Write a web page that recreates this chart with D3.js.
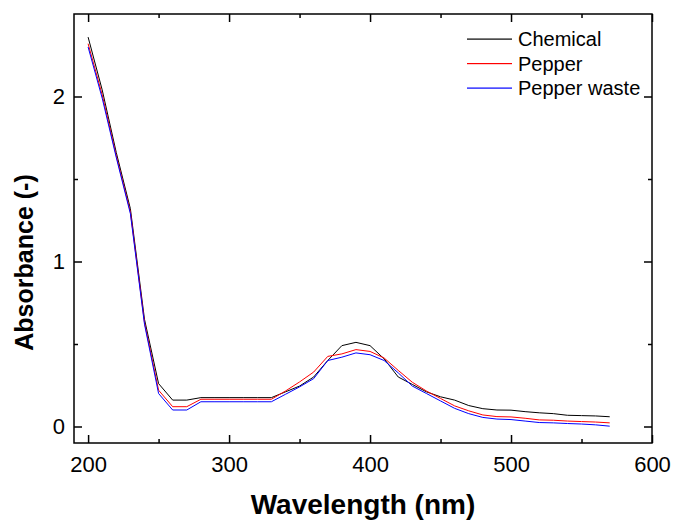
<!DOCTYPE html>
<html>
<head>
<meta charset="utf-8">
<script src="https://cdn.jsdelivr.net/npm/d3@7"></script>
<style>
  body { margin: 0; background: #fff; }
  text { font-family: "Liberation Sans", Arial, sans-serif; }
</style>
</head>
<body>
<script>
// wavelength (nm)
var wavelengths = [200, 210, 220, 230, 240, 250, 260, 270, 280, 290, 300, 310, 320, 330, 340,
    350, 360, 370, 380, 390, 400, 410, 420, 430, 440, 450, 460, 470, 480, 490, 500, 510,
    520, 530, 540, 550, 560, 570];

var chemical = [2.36, 2.04, 1.66, 1.32, 0.65, 0.26, 0.16, 0.16, 0.175, 0.175, 0.175, 0.175, 0.175, 0.175, 0.21,
    0.245, 0.30, 0.40, 0.49, 0.51, 0.49, 0.41, 0.30, 0.255, 0.21, 0.18, 0.16, 0.127, 0.108, 0.10, 0.099, 0.09,
    0.083, 0.078, 0.068, 0.066, 0.064, 0.059];

var pepper = [2.32, 2.01, 1.64, 1.30, 0.63, 0.22, 0.12, 0.12, 0.165, 0.165, 0.165, 0.165, 0.165, 0.165, 0.215,
    0.27, 0.33, 0.425, 0.44, 0.466, 0.455, 0.415, 0.34, 0.268, 0.215, 0.17, 0.125, 0.095, 0.07, 0.06, 0.058, 0.05,
    0.04, 0.038, 0.033, 0.03, 0.027, 0.022];

var pepperWaste = [2.30, 1.99, 1.63, 1.29, 0.62, 0.20, 0.10, 0.10, 0.15, 0.15, 0.15, 0.15, 0.15, 0.15, 0.195,
    0.24, 0.29, 0.40, 0.42, 0.446, 0.435, 0.40, 0.325, 0.245, 0.20, 0.155, 0.11, 0.078, 0.055, 0.045, 0.042, 0.033,
    0.024, 0.022, 0.018, 0.015, 0.01, 0.002];

var seriesNames = ["Chemical", "Pepper", "Pepper waste"];
var seriesColors = ["#000000", "#ff0000", "#0000ff"];

var xTicks = [200, 300, 400, 500, 600];
var xMinorTicks = [250, 350, 450, 550];
var yTicks = [0, 1, 2];
var yMinorTicks = [0.5, 1.5];

var width = 673;
var height = 521;
var margin = {top: 14, right: 21, bottom: 78, left: 74};
var innerWidth = width - margin.left - margin.right;
var innerHeight = height - margin.top - margin.bottom;

var series = [chemical, pepper, pepperWaste].map((vals, i) => ({
    name: seriesNames[i],
    color: seriesColors[i],
    values: wavelengths.map((w, j) => ({x: w, y: vals[j]}))
}));

//Scales
var x = d3.scaleLinear().domain([190, 600]).range([0, innerWidth]);
var y = d3.scaleLinear().domain([-0.1, 2.5]).range([innerHeight, 0]);

//Canvas
var svg = d3.select("body").append("svg")
    .attr("width", width)
    .attr("height", height);
var g = svg.append("g")
    .attr("transform", "translate(" + margin.left + ", " + margin.top + ")");

//Lines
var line = d3.line().x(d => x(d.x)).y(d => y(d.y));
g.selectAll(".series")
    .data(series)
    .enter()
    .append("path")
        .attr("class", "series")
        .attr("fill", "none")
        .attr("stroke", d => d.color)
        .attr("stroke-width", 1)
        .attr("d", d => line(d.values));

//Axes (ticks point inward, mirrored on top/right)
function styleAxis(sel) {
    sel.select(".domain").remove();
    sel.selectAll("line").attr("stroke", "#000").attr("stroke-width", 1.5);
    sel.selectAll("text").attr("fill", "#000").style("font-size", "22px");
}
function noLabels(sel) {
    sel.select(".domain").remove();
    sel.selectAll("text").remove();
    sel.selectAll("line").attr("stroke", "#000").attr("stroke-width", 1.5);
}

g.append("g")
    .attr("transform", "translate(0," + innerHeight + ")")
    .call(d3.axisBottom(x).tickValues(xTicks).tickSize(-8).tickPadding(13))
    .call(styleAxis);
g.append("g")
    .attr("transform", "translate(0," + innerHeight + ")")
    .call(d3.axisBottom(x).tickValues(xMinorTicks).tickSize(-4))
    .call(noLabels);
g.append("g")
    .call(d3.axisTop(x).tickValues(xTicks).tickSize(-8))
    .call(noLabels);
g.append("g")
    .call(d3.axisTop(x).tickValues(xMinorTicks).tickSize(-4))
    .call(noLabels);

g.append("g")
    .call(d3.axisLeft(y).tickValues(yTicks).tickSize(-8).tickPadding(9).tickFormat(d3.format("d")))
    .call(styleAxis);
g.append("g")
    .call(d3.axisLeft(y).tickValues(yMinorTicks).tickSize(-4))
    .call(noLabels);
g.append("g")
    .attr("transform", "translate(" + innerWidth + ",0)")
    .call(d3.axisRight(y).tickValues(yTicks).tickSize(-8))
    .call(noLabels);
g.append("g")
    .attr("transform", "translate(" + innerWidth + ",0)")
    .call(d3.axisRight(y).tickValues(yMinorTicks).tickSize(-4))
    .call(noLabels);

//Frame
g.append("rect")
    .attr("width", innerWidth)
    .attr("height", innerHeight)
    .attr("fill", "none")
    .attr("stroke", "#000")
    .attr("stroke-width", 1.5);

//Axis titles
g.append("text")
    .attr("x", innerWidth / 2)
    .attr("y", innerHeight + 71)
    .attr("text-anchor", "middle")
    .style("font-size", "28px")
    .style("font-weight", "bold")
    .text("Wavelength (nm)");
g.append("text")
    .attr("transform", "rotate(-90)")
    .attr("x", -(y(1) + 1))
    .attr("y", -41)
    .attr("text-anchor", "middle")
    .style("font-size", "25px")
    .style("font-weight", "bold")
    .text("Absorbance (-)");

//Legend
var legend = g.selectAll(".legend")
    .data(series)
    .enter()
    .append("g")
        .attr("class", "legend")
        .attr("transform", (d, i) => "translate(393," + (25 + i * 24.5) + ")");
legend.append("rect")
    .attr("x", 0).attr("y", -0.5)
    .attr("width", 45).attr("height", 1.2)
    .attr("fill", d => d.color);
legend.append("text")
    .attr("x", 51)
    .attr("dy", "0.35em")
    .style("font-size", "20px")
    .text(d => d.name);
</script>
</body>
</html>
